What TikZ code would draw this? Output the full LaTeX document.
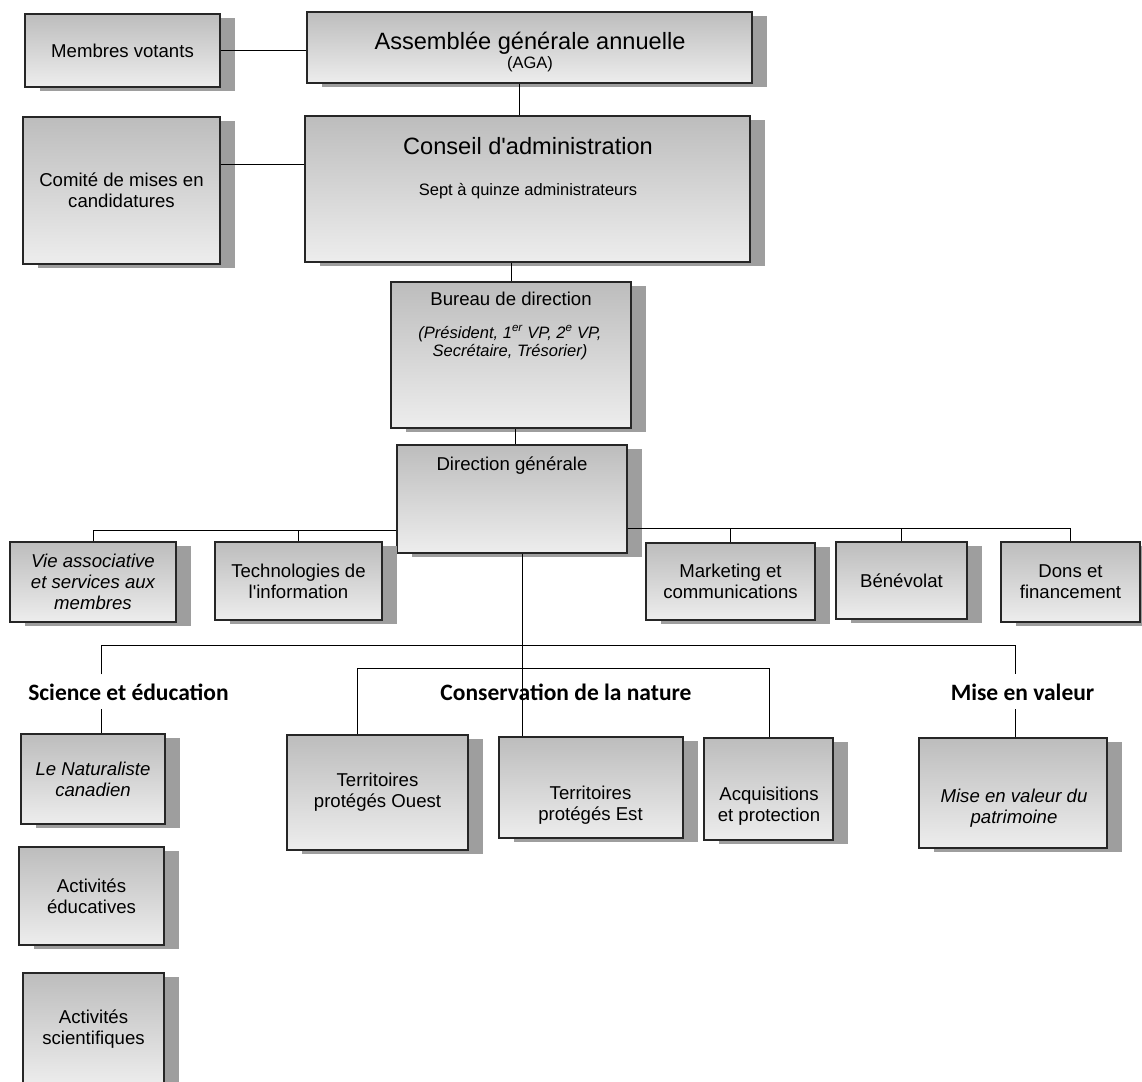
\documentclass[tikz,border=0pt]{standalone}
\usepackage{fontspec}
\setmainfont{Liberation Sans}
\newfontfamily\headfont{Carlito}
\usetikzlibrary{shadows}

\begin{document}
\begin{tikzpicture}
  [x=1pt,y=-1pt,
   orgbox/.style={draw=black!85,line width=1.1pt,top color=gray!52,bottom color=gray!14,
     drop shadow={shadow xshift=15pt,shadow yshift=-4pt,fill=black!38,opacity=1},
     inner sep=0pt,align=center,font=\fontsize{18.6}{21}\selectfont},
   boxtext/.style={inner sep=0pt,align=center,font=\fontsize{18.6}{21}\selectfont},
   bigtext/.style={inner sep=0pt,anchor=base,font=\fontsize{23.6}{28}\selectfont},
   smalltext/.style={inner sep=0pt,anchor=base,font=\fontsize{16.5}{18}\selectfont},
   heading/.style={inner xsep=0pt,inner ysep=9pt,anchor=base,font=\headfont\bfseries\fontsize{23.5}{28}\selectfont},
   link/.style={line width=0.9pt}]
  \useasboundingbox (0,0) rectangle (1142,1081);
  \clip (0,0) rectangle (1142,1081);

  % top of the chart
  \node[orgbox,minimum width=195pt,minimum height=73pt] (mv) at (122.5,50.5) {Membres votants};
  \node[orgbox,minimum width=445pt,minimum height=71pt] (aga) at (529.5,47.5) {};
  \node[orgbox,minimum width=197pt,minimum height=147pt] (cmc) at (121.5,190.5) {Comité de mises en\\candidatures};
  \node[orgbox,minimum width=445pt,minimum height=146pt] (ca) at (527.5,189) {};
  \node[orgbox,minimum width=240pt,minimum height=146pt] (bur) at (511,355) {};
  \node[orgbox,minimum width=230pt,minimum height=108pt] (dg) at (512,499) {};

  \node[bigtext] (aga-t) at (530,50) {Assemblée générale annuelle};
  \node[smalltext] (aga-s) at (530,69) {(AGA)};
  \node[bigtext] (ca-t) at (528,154) {Conseil d\textquotesingle administration};
  \node[smalltext] (ca-s) at (528,195) {Sept à quinze administrateurs};
  \node[boxtext,anchor=base] (bur-t) at (511,305) {Bureau de direction};
  \node[smalltext,anchor=center,align=center,font=\fontsize{16.5}{18}\selectfont\itshape] (bur-s) at (510,342.5)
    {(Président, 1\textsuperscript{er} VP, 2\textsuperscript{e} VP,\\Secrétaire, Trésorier)};
  \node[boxtext,anchor=base] (dg-t) at (512,470) {Direction générale};

  % services
  \node[orgbox,minimum width=166pt,minimum height=80pt,font=\fontsize{18.6}{21}\selectfont\itshape] (via) at (93,582) {Vie associative\\et services aux\\membres};
  \node[orgbox,minimum width=167pt,minimum height=78pt] (ti) at (298.5,581) {Technologies de\\l\textquotesingle information};
  \node[orgbox,minimum width=169pt,minimum height=77pt] (mkt) at (730.5,581.5) {Marketing et\\communications};
  \node[orgbox,minimum width=131pt,minimum height=77pt] (ben) at (901.5,580.5) {Bénévolat};
  \node[orgbox,minimum width=139pt,minimum height=80pt] (don) at (1070.5,582) {Dons et\\financement};

  % sectors
  \node[heading] (sed) at (128.5,700) {Science et éducation};
  \node[heading] (cdn) at (566,700) {Conservation de la nature};
  \node[heading] (mvl) at (1022.5,700) {Mise en valeur};

  \node[orgbox,minimum width=144pt,minimum height=90pt,font=\fontsize{18.6}{21}\selectfont\itshape] (nat) at (93,779) {Le Naturaliste\\canadien};
  \node[orgbox,minimum width=145pt,minimum height=98pt] (edu) at (91.5,896) {Activités\\éducatives};
  \node[orgbox,minimum width=141pt,minimum height=113pt] (sci) at (93.5,1029.5) {Activités\\scientifiques};
  \node[orgbox,minimum width=181pt,minimum height=115pt] (tpo) at (377.5,792.5) {Territoires\\protégés Ouest};
  \node[orgbox,minimum width=184pt,minimum height=101pt] (tpe) at (591,787.5) {};
  \node[orgbox,minimum width=129pt,minimum height=102pt] (acq) at (768.5,789) {};
  \node[orgbox,minimum width=188pt,minimum height=110pt] (mev) at (1013,793) {};

  \node[boxtext] (tpe-t) at (590.5,805) {Territoires\\protégés Est};
  \node[boxtext] (acq-t) at (769,806) {Acquisitions\\et protection};
  \node[boxtext,font=\fontsize{18.6}{21}\selectfont\itshape] (mev-t) at (1014,808.5) {Mise en valeur du\\patrimoine};

  % links
  \coordinate (cmce) at ([yshift=26.5pt]cmc.east);
  \coordinate (agas) at ([xshift=-10.5pt]aga.south);
  \coordinate (dgn) at ([xshift=3pt]dg.north);
  \coordinate (dgw) at ([yshift=-31pt]dg.west);
  \coordinate (dge) at ([yshift=-29pt]dg.east);
  \coordinate (dgs) at ([xshift=10pt]dg.south);
  \coordinate (busl) at (101,645);
  \coordinate (busr) at (1015,645);
  \coordinate (consl) at (357,668);
  \coordinate (consr) at (769,668);

  \draw[link] (mv) -- (mv -| aga.west);
  \draw[link] (cmce) -- (cmce -| ca.west);
  \draw[link] (agas) -- (agas |- ca.north);
  \draw[link] (bur.north) -- (bur.north |- ca.south);
  \draw[link] (dgn) -- (dgn |- bur.south);
  \foreach \sub in {via,ti}
    \draw[link] (dgw) -| (\sub.north);
  \foreach \sub in {mkt,ben,don}
    \draw[link] (dge) -| (\sub.north);
  \draw[link] (dgs) -- (dgs |- tpe.north);
  \draw[link] (sed.north -| busl) -- (busl) -- (busr) -- (mvl.north -| busr);
  \draw[link] (sed.south -| busl) -- (nat.north -| busl);
  \draw[link] (mvl.south -| busr) -- (mev.north -| busr);
  \draw[link] (tpo.north -| consl) -- (consl) -- (consr) -- (consr |- acq.north);
\end{tikzpicture}
\end{document}
